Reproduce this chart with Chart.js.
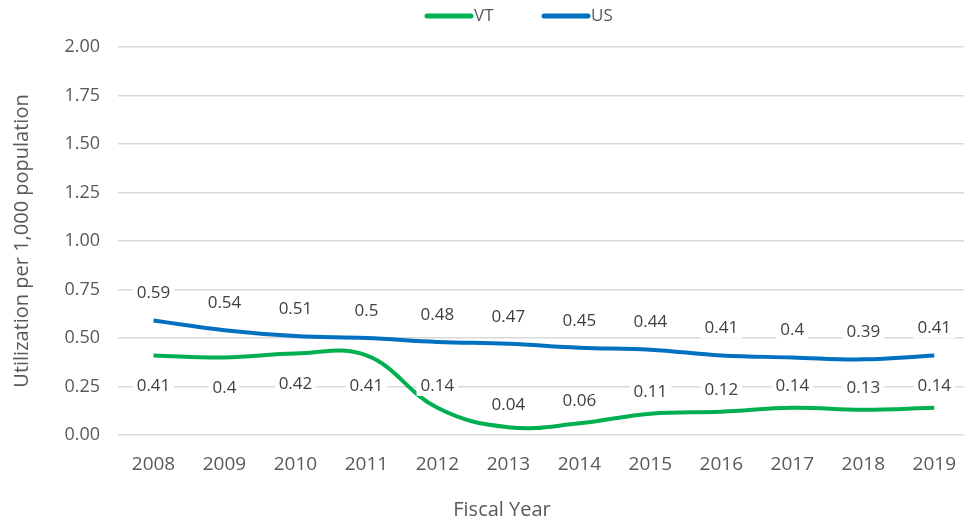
<!DOCTYPE html>
<html>
<head>
<meta charset="utf-8">
<script src="https://cdn.jsdelivr.net/npm/chart.js@4.4.1/dist/chart.umd.min.js"></script>
<style>
  html, body { margin: 0; padding: 0; background: #fff; overflow: hidden; }
  #wrap { width: 964px; height: 523px; overflow: hidden; }
</style>
</head>
<body>
<!-- canvas a bit wider than the window: the gridlines in the original run off the right edge -->
<div id="wrap"><canvas id="myChart" width="974" height="523"></canvas></div>

<script type="text/javascript">
  var years = ['2008', '2009', '2010', '2011', '2012', '2013', '2014', '2015', '2016', '2017', '2018', '2019'];
  var vtValues = [0.41, 0.4, 0.42, 0.41, 0.14, 0.04, 0.06, 0.11, 0.12, 0.14, 0.13, 0.14];
  var usValues = [0.59, 0.54, 0.51, 0.5, 0.48, 0.47, 0.45, 0.44, 0.41, 0.4, 0.39, 0.41];
  var yTicks = [0, 0.25, 0.5, 0.75, 1, 1.25, 1.5, 1.75, 2];
  var xTitle = 'Fiscal Year';

  var FONT = '"Open Sans", "Liberation Sans", sans-serif';
  var GREY = '#595959';

  // values drawn with a white box behind them, like the excel labels
  var valueLabels = {
    id: 'valueLabels',
    afterDatasetsDraw: function(chart) {
      var ctx = chart.ctx;
      ctx.save();
      ctx.font = '17px ' + FONT;
      ctx.textAlign = 'center';
      ctx.textBaseline = 'middle';
      chart.data.datasets.forEach(function(ds, di) {
        var meta = chart.getDatasetMeta(di);
        meta.data.forEach(function(pt, i) {
          var txt = String(ds.data[i]);
          var dy;
          if (ds.label === 'US') dy = -27;
          else dy = i < 4 ? 31 : -22;
          var x = pt.x, y = pt.y + dy;
          var w = ctx.measureText(txt).width + 8;
          ctx.fillStyle = '#fff';
          ctx.fillRect(x - w / 2, y - 10, w, 20);
          ctx.fillStyle = '#404040';
          ctx.fillText(txt, x, y);
        });
      });
      ctx.restore();
    }
  };

  // legend + x title drawn by hand so they sit where the original ones are
  var extras = {
    id: 'extras',
    afterDraw: function(chart) {
      var ctx = chart.ctx;
      ctx.save();
      ctx.font = '17px ' + FONT;
      ctx.textBaseline = 'middle';
      var x = 425, y = 16;
      chart.data.datasets.forEach(function(ds) {
        ctx.strokeStyle = ds.borderColor;
        ctx.lineWidth = 5;
        ctx.lineCap = 'round';
        ctx.beginPath();
        ctx.moveTo(x + 2, y);
        ctx.lineTo(x + 46, y);
        ctx.stroke();
        ctx.fillStyle = GREY;
        ctx.fillText(ds.label, x + 49, y);
        x += 117;
      });
      ctx.font = '20px ' + FONT;
      ctx.textAlign = 'center';
      ctx.fillText(xTitle, 502, 510);
      ctx.restore();
    }
  };

  var ctx = document.getElementById('myChart').getContext('2d');
  var chart = new Chart(ctx, {
      type: 'line',
      data: {
          labels: years,
          datasets: [{
              label: 'VT',
              data: vtValues,
              borderColor: '#00B050',
              backgroundColor: '#00B050',
              borderWidth: 4,
              tension: 0.4,
              pointRadius: 0,
              fill: false
          }, {
              label: 'US',
              data: usValues,
              borderColor: '#0070C0',
              backgroundColor: '#0070C0',
              borderWidth: 4,
              tension: 0.4,
              pointRadius: 0,
              fill: false
          }]
      },
      options: {
          responsive: false,
          animation: false,
          layout: { padding: { top: 47, right: 0, left: 0, bottom: 0 } },
          plugins: {
              legend: { display: false },
              tooltip: { enabled: false }
          },
          scales: {
              x: {
                  offset: true,
                  grid: { display: false, drawTicks: false },
                  border: { display: false },
                  ticks: { color: GREY, font: { family: FONT, size: 19 }, padding: 18, autoSkip: false, maxRotation: 0 },
                  afterFit: function(scale) { scale.height = 88; }
              },
              y: {
                  min: 0,
                  max: 2,
                  afterBuildTicks: function(scale) {
                      scale.ticks = yTicks.map(function(v) { return { value: v }; });
                  },
                  grid: { color: '#d9d9d9', lineWidth: 1.5, drawTicks: false },
                  border: { display: false },
                  ticks: {
                      color: GREY,
                      font: { family: FONT, size: 18 },
                      padding: 18,
                      callback: function(v) { return v.toFixed(2); }
                  },
                  title: { display: true, text: 'Utilization per 1,000 population', color: GREY, font: { family: FONT, size: 20 }, padding: { top: 10, bottom: 6 } },
                  afterFit: function(scale) { scale.width = 118; }
              }
          }
      },
      plugins: [valueLabels, extras]
  });
</script>
</body>
</html>
